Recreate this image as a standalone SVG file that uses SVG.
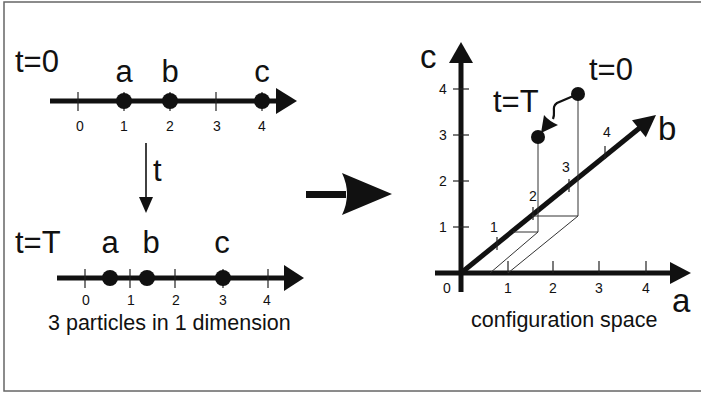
<svg xmlns="http://www.w3.org/2000/svg" width="701" height="393" viewBox="0 0 701 393">
<defs>
<style>
text{font-family:"Liberation Sans",Arial,sans-serif;fill:#111}
.big{font-size:31px}
.lbl{font-size:33px}
.num{font-size:14px;text-anchor:middle}
.cap{font-size:21.5px}
.axis{stroke:#111;stroke-width:5;fill:none}
.tick{stroke:#222;stroke-width:1.2;fill:none}
.thin{stroke:#333;stroke-width:1;fill:none}
.dot{fill:#111}
.head{fill:#111;stroke:none}
</style>
</defs>
<rect x="4" y="2" width="720" height="389" fill="#fff" stroke="#666" stroke-width="1.5"/>

<g id="line-t0">
<line class="axis" x1="50" y1="101" x2="280" y2="101"/>
<polygon class="head" points="276,88 297,101 276,114"/>
<g class="tick">
<line x1="78" y1="92" x2="78" y2="111"/><line x1="124" y1="92" x2="124" y2="111"/><line x1="170" y1="92" x2="170" y2="111"/><line x1="216" y1="92" x2="216" y2="111"/><line x1="262" y1="92" x2="262" y2="111"/>
</g>
<circle class="dot" cx="124" cy="101" r="8"/><circle class="dot" cx="170" cy="101" r="8"/><circle class="dot" cx="262" cy="101" r="8"/>
<text class="num" x="80" y="131">0</text><text class="num" x="124" y="131">1</text><text class="num" x="170" y="131">2</text><text class="num" x="217" y="131">3</text><text class="num" x="262" y="131">4</text>
<text class="big" x="15" y="72">t=0</text>
<text class="big" x="124" y="82" text-anchor="middle">a</text>
<text class="big" x="170" y="82" text-anchor="middle">b</text>
<text class="big" x="262" y="82" text-anchor="middle">c</text>
</g>

<g id="time-arrow">
<line x1="146" y1="143" x2="146" y2="200" stroke="#111" stroke-width="1.6"/>
<polygon class="head" points="139,197 153,197 146,213"/>
<text class="big" x="153" y="181">t</text>
</g>

<g id="line-tT">
<line class="axis" x1="57" y1="278" x2="287" y2="278"/>
<polygon class="head" points="284,265 304,278 284,291"/>
<g class="tick">
<line x1="85" y1="269" x2="85" y2="288"/><line x1="130" y1="269" x2="130" y2="288"/><line x1="175" y1="269" x2="175" y2="288"/><line x1="223" y1="269" x2="223" y2="288"/><line x1="268" y1="269" x2="268" y2="288"/>
</g>
<circle class="dot" cx="110" cy="278" r="8"/><circle class="dot" cx="147" cy="278" r="8"/><circle class="dot" cx="223" cy="278" r="8"/>
<text class="num" x="86" y="305">0</text><text class="num" x="131" y="305">1</text><text class="num" x="176" y="305">2</text><text class="num" x="223" y="305">3</text><text class="num" x="267" y="305">4</text>
<text class="big" x="15" y="253">t=T</text>
<text class="big" x="110" y="253" text-anchor="middle">a</text>
<text class="big" x="151" y="253" text-anchor="middle">b</text>
<text class="big" x="222" y="253" text-anchor="middle">c</text>
<text class="cap" x="48" y="330">3 particles in 1 dimension</text>
</g>

<g id="big-arrow">
<rect x="306" y="191" width="40" height="7" fill="#111"/>
<path class="head" d="M342,173 L392,194 L342,215 Q352,194 342,173 Z"/>
</g>

<g id="config-space">
<line class="axis" x1="461" y1="292" x2="461" y2="60" stroke-width="5.5"/>
<polygon class="head" points="449,63 461,42 473,63"/>
<line class="axis" x1="435" y1="273" x2="673" y2="273" stroke-width="5.5"/>
<polygon class="head" points="670,262 691,273 670,284"/>
<line class="axis" x1="461" y1="273" x2="642" y2="126"/>
<polygon class="head" points="656,115 645.8,137.3 632,120.3"/>
<g class="tick">
<line x1="453" y1="89" x2="469" y2="89"/><line x1="453" y1="135" x2="469" y2="135"/><line x1="453" y1="181" x2="469" y2="181"/><line x1="453" y1="227" x2="469" y2="227"/>
<line x1="508" y1="261" x2="508" y2="273"/><line x1="553" y1="261" x2="553" y2="273"/><line x1="599" y1="261" x2="599" y2="273"/><line x1="646" y1="261" x2="646" y2="273"/>
<line x1="497" y1="237" x2="497" y2="250"/><line x1="533" y1="207" x2="533" y2="220"/><line x1="569" y1="179" x2="569" y2="192"/><line x1="605" y1="146" x2="605" y2="159"/>
</g>
<text class="num" x="443" y="94">4</text><text class="num" x="443" y="140">3</text><text class="num" x="443" y="186">2</text><text class="num" x="443" y="232">1</text>
<text class="num" x="447" y="293">0</text><text class="num" x="508" y="293">1</text><text class="num" x="553" y="293">2</text><text class="num" x="599" y="293">3</text><text class="num" x="646" y="293">4</text>
<text class="num" x="494" y="232">1</text><text class="num" x="533" y="201">2</text><text class="num" x="566" y="172">3</text><text class="num" x="607" y="137">4</text>
<text class="lbl" x="420" y="68">c</text>
<text class="lbl" x="658" y="140">b</text>
<text class="lbl" x="672" y="312">a</text>
<text class="cap" x="471" y="327">configuration space</text>
</g>

<g id="projections">
<line class="thin" x1="538" y1="137" x2="538" y2="232"/>
<line class="thin" x1="578" y1="94" x2="578" y2="216"/>
<line class="thin" x1="513" y1="232" x2="538" y2="232"/>
<line class="thin" x1="532" y1="216" x2="578" y2="216"/>
<line class="thin" x1="538" y1="232" x2="490" y2="273"/>
<line class="thin" x1="578" y1="216" x2="508" y2="273"/>
</g>

<g id="state-t0">
<circle class="dot" cx="578" cy="94" r="7"/>
<text class="big" x="589" y="80">t=0</text>
</g>
<g id="state-tT">
<circle class="dot" cx="538" cy="137" r="7"/>
<text class="big" x="493" y="112">t=T</text>
</g>

<g id="connectors">
<path d="M578,94 L557,103 C551,107 556,112 553,119" stroke="#111" stroke-width="2.2" fill="none"/>
<path class="head" d="M541,133 L544,115 Q549,121 558,125 Z"/>
</g>
</svg>
